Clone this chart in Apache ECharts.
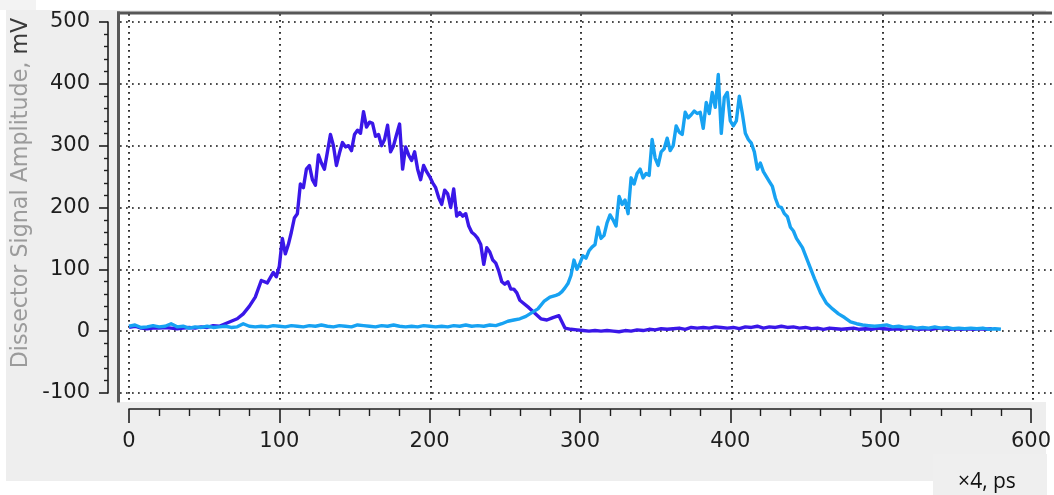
<!DOCTYPE html>
<html>
<head>
<meta charset="utf-8">
<script src="https://cdn.jsdelivr.net/npm/echarts@6/dist/echarts.min.js"></script>
<style>html,body{margin:0;padding:0;background:#fff}#c{width:1054px;height:495px}</style>
</head>
<body>
<div id="c"></div>
<script>
// ---- data ----
const darkX = [0,4,8,12,16,20,24,28,32,36,40,44,48,52,56,60,64,68,72,76,80,84,88,92,96,
  98,100,102,104,106,108,110,112,114,116,118,120,122,124,126,128,130,132,134,136,138,140,142,144,146,148,150,152,154,156,158,160,162,164,166,168,170,172,174,176,178,180,182,184,186,188,190,192,194,196,198,200,202,204,206,208,210,212,214,216,218,220,222,224,226,228,230,232,234,236,238,240,242,244,246,248,250,252,254,256,258,260,262,
  266,270,274,278,282,286,290,294,298,302,306,310,314,318,322,326,330,334,338,342,346,350,354,358,362,366,370,374,378,382,386,390,394,398,402,406,410,414,418,422,426,430,434,438,442,446,450,454,458,462,466,470,474,478,482,486,490,494,498,502,506,510,514,518,522,526,530,534,538,542,546,550,554,558,562,566,570,574,578];
const darkY = [6,8,5,4,5,5,6,5,4,5,6,5,7,6,9,8,12,16,20,28,40,55,82,78,95,
  88,105,150,125,140,160,183,190,238,232,262,268,245,236,285,272,262,290,318,300,268,288,305,298,300,292,318,325,320,355,330,338,336,315,318,300,310,333,290,300,318,335,262,298,285,276,290,262,245,268,258,250,240,232,216,205,228,222,200,230,186,192,186,190,170,160,156,150,140,108,135,128,115,110,97,80,76,80,68,68,62,50,46,
  38,29,20,18,22,25,5,3,2,1,0,1,0,1,0,-1,1,0,2,1,3,2,4,3,4,5,3,6,5,6,5,7,6,5,6,4,7,6,8,5,7,6,8,6,7,5,6,4,5,3,5,4,3,4,5,3,4,3,5,4,3,4,3,5,4,3,4,3,5,4,3,4,3,4,3,4,3,4];
const lightX = [0,4,8,12,16,20,24,28,32,36,40,44,48,52,56,60,64,68,72,76,80,84,88,92,96,100,104,108,112,116,120,124,128,132,136,140,144,148,152,156,160,164,168,172,176,180,184,188,192,196,200,204,208,212,216,220,224,228,232,236,240,244,248,252,256,260,264,268,272,276,280,284,
  286,288,290,292,294,296,298,300,302,304,306,308,310,312,314,316,318,320,322,324,326,328,330,332,334,336,338,340,342,344,346,348,350,352,354,356,358,360,362,364,366,368,370,372,374,376,378,380,382,384,386,388,390,392,394,396,398,400,402,404,406,408,410,412,414,416,418,420,422,424,426,428,430,432,434,436,438,440,442,444,
  448,452,456,460,464,468,472,476,480,484,488,492,496,500,504,508,512,516,520,524,528,532,536,540,544,548,552,556,560,564,568,572,576,580];
const lightY = [8,10,6,7,9,7,8,12,7,8,5,7,6,8,6,7,8,6,7,12,8,7,8,7,9,8,7,9,8,7,9,8,10,8,7,9,8,7,10,9,8,7,9,8,10,8,7,8,7,9,8,7,8,7,9,8,10,8,9,8,10,9,12,16,18,20,24,30,36,48,55,58,
  60,64,70,77,90,115,100,110,122,118,130,136,140,168,150,155,175,188,180,170,218,205,212,190,248,238,255,262,248,255,252,310,280,268,290,295,312,292,300,332,322,318,354,345,350,356,352,354,328,370,352,386,362,415,320,378,386,340,332,340,380,352,320,310,304,290,262,272,258,250,242,234,215,202,200,190,185,168,162,150,
  135,110,85,62,45,36,28,22,15,12,10,9,8,9,10,7,8,6,7,5,6,5,7,5,6,4,5,4,5,4,5,3,4,3];
const xTicks = [0,100,200,300,400,500,600];
const yTicks = [-100,0,100,200,300,400,500];
const yTitle = 'Dissector Signal Amplitude,';
const yUnit = 'mV';
const xUnit = '\u00d74, ps';

const chart = echarts.init(document.getElementById('c'), null, {renderer:'canvas'});
const labelFont = {fontFamily:'DejaVu Sans', fontSize:21, color:'#1e1e1e'};
const gridLine = {show:true, lineStyle:{color:'#111111', width:1.7, type:[1.7,4.3]}};

const option = {
  animation:false,
  backgroundColor:'#ffffff',
  grid:[
    {left:120, top:14, width:932, height:388, show:true, backgroundColor:'#ffffff', borderWidth:0},
    {left:129, top:22, width:904, height:371, show:false}
  ],
  xAxis:[
    {gridIndex:0, type:'value', min:-5.973, max:612.6,
     axisLine:{show:false}, axisLabel:{show:false},
     axisTick:{show:false, customValues:xTicks}, splitLine:gridLine},
    {gridIndex:1, type:'value', min:xTicks[0], max:xTicks[xTicks.length-1], interval:100,
     position:'bottom', offset:16,
     axisLine:{show:true, onZero:false, lineStyle:{color:'#1e1e1e', width:1.6}},
     axisTick:{show:true, length:14, lineStyle:{color:'#1e1e1e', width:1.6}},
     minorTick:{show:true, splitNumber:5, length:7, lineStyle:{color:'#1e1e1e', width:1.4}},
     axisLabel:Object.assign({margin:22}, labelFont),
     splitLine:{show:false}}
  ],
  yAxis:[
    {gridIndex:0, type:'value', min:-114.56, max:512.94,
     axisLine:{show:false}, axisLabel:{show:false},
     axisTick:{show:false, customValues:yTicks}, splitLine:gridLine},
    {gridIndex:1, type:'value', min:yTicks[0], max:yTicks[yTicks.length-1], interval:100,
     position:'left', offset:21,
     axisLine:{show:true, onZero:false, lineStyle:{color:'#1e1e1e', width:1.6}},
     axisTick:{show:true, length:9, lineStyle:{color:'#1e1e1e', width:1.6}},
     minorTick:{show:true, splitNumber:5, length:4, lineStyle:{color:'#1e1e1e', width:1.4}},
     axisLabel:Object.assign({margin:18}, labelFont),
     splitLine:{show:false}}
  ],
  series:[
    {type:'line', xAxisIndex:1, yAxisIndex:1, showSymbol:false, symbol:'none',
     data:darkX.map((x,i)=>[x,darkY[i]]),
     lineStyle:{color:'#3a17e8', width:3.4, join:'round'}, z:3},
    {type:'line', xAxisIndex:1, yAxisIndex:1, showSymbol:false, symbol:'none',
     data:lightX.map((x,i)=>[x,lightY[i]]),
     lineStyle:{color:'#17a2f2', width:3.4, join:'round'}, z:4}
  ],
  graphic:[
    {type:'rect', z:-100, silent:true, shape:{x:6, y:10, width:1040, height:471}, style:{fill:'#eeeeee'}},
    {type:'rect', z:-100, silent:true, shape:{x:0, y:0, width:36, height:10}, style:{fill:'#f3f3f3'}},
    {type:'rect', z:-100, silent:true, shape:{x:933, y:454, width:114, height:41}, style:{fill:'#efefef'}},
    {type:'rect', z:50, silent:true, shape:{x:117, y:11.5, width:935, height:3}, style:{fill:'#575757'}},
    {type:'rect', z:50, silent:true, shape:{x:117, y:11.5, width:3, height:391}, style:{fill:'#575757'}},
    {type:'text', z:50, silent:true, x:21, y:193, rotation:Math.PI/2,
     style:{text:'{a|'+yTitle+'}{b| '+yUnit+'}', align:'center', verticalAlign:'middle',
       rich:{a:{fontFamily:'DejaVu Sans', fontSize:22.2, fill:'#9b9b9b'},
             b:{fontFamily:'DejaVu Sans', fontSize:22.2, fill:'#3a3a3a'}}}},
    {type:'text', z:50, silent:true, x:987, y:482,
     style:{text:xUnit, align:'center', verticalAlign:'middle', fontFamily:'Open Sans', fontSize:21, fill:'#111111'}}
  ]
};
chart.setOption(option);
</script>
</body>
</html>
